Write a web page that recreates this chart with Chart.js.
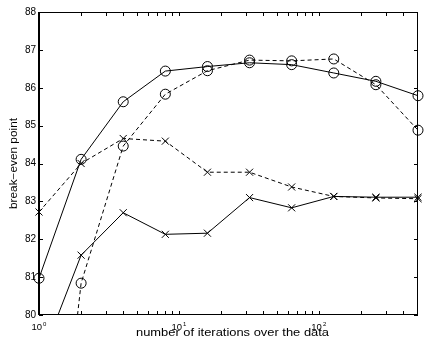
<!DOCTYPE html>
<html>
<head>
<meta charset="utf-8">
<script src="https://cdn.jsdelivr.net/npm/chart.js@4.4.0/dist/chart.umd.min.js"></script>
<style>
  html, body { margin: 0; padding: 0; background: #fff; }
  #wrap { width: 424px; height: 343px; }
</style>
</head>
<body>
<div id="wrap"><canvas id="myChart" width="424" height="343"></canvas></div>
<script>
// number of passes over the data (log axis)
let iterations = [1, 2, 4, 8, 16, 32, 64, 128, 256, 512]

// break-even point for each run
let solidCircles  = [80.97, 84.11, 85.63, 86.44, 86.56, 86.66, 86.61, 86.39, 86.17, 85.79]
let dashedCircles = [71.0, 80.84, 84.46, 85.83, 86.45, 86.73, 86.71, 86.76, 86.08, 84.88]
let dashedCrosses = [82.72, 84.0, 84.66, 84.59, 83.77, 83.77, 83.38, 83.13, 83.09, 83.07]
let solidCrosses  = [78.7, 81.58, 82.70, 82.13, 82.16, 83.10, 82.83, 83.13, 83.11, 83.11]

let yTicks = [80, 81, 82, 83, 84, 85, 86, 87, 88]
let xDecades = [1, 10, 100]
let xTickLabels = ['10', '10', '10']
let xTickExponents = ['0', '1', '2']
let xTitle = 'number of iterations over the data'
let yTitle = 'break\u2212even point'

const font = '"Liberation Sans", Arial, Helvetica, sans-serif'

function toPoints(vals){
    return iterations.map((it, i) => ({x: it, y: vals[i]}))
}

function makeSet(label, vals, dashed, marker){
    return {
        label: label,
        data: toPoints(vals),
        borderColor: '#000',
        borderWidth: 1,
        borderDash: dashed ? [4, 3] : [],
        backgroundColor: 'rgba(0,0,0,0)',
        pointStyle: marker,
        pointRadius: 5,
        pointBorderColor: '#000',
        pointBorderWidth: 1,
        pointBackgroundColor: 'rgba(0,0,0,0)',
        tension: 0,
        fill: false,
        clip: {left: 8, top: 8, right: 8, bottom: 0}
    }
}

// box, inward ticks, log labels and titles in a MATLAB-ish style
const frame = {
    id: 'frame',
    afterDraw(chart){
        const ctx = chart.ctx
        const a = chart.chartArea
        const xs = chart.scales.x
        const ys = chart.scales.y
        ctx.save()
        ctx.strokeStyle = '#000'
        ctx.lineWidth = 1

        // box
        ctx.beginPath()
        ctx.moveTo(a.left, a.top + 0.5); ctx.lineTo(a.right, a.top + 0.5)
        ctx.moveTo(a.left, a.bottom - 0.5); ctx.lineTo(a.right, a.bottom - 0.5)
        ctx.moveTo(a.right - 0.5, a.top); ctx.lineTo(a.right - 0.5, a.bottom)
        ctx.stroke()
        ctx.lineWidth = 2
        ctx.beginPath()
        ctx.moveTo(a.left, a.top); ctx.lineTo(a.left, a.bottom)
        ctx.stroke()

        // inward ticks
        ctx.lineWidth = 1
        const len = 4
        ctx.beginPath()
        yTicks.forEach(v => {
            const py = Math.round(ys.getPixelForValue(v)) + 0.5
            ctx.moveTo(a.left, py); ctx.lineTo(a.left + len, py)
            ctx.moveTo(a.right, py); ctx.lineTo(a.right - len, py)
        })
        xDecades.forEach(d => {
            for (let m = 1; m <= 9; m++){
                const v = d * m
                if (v > xs.max) break
                const px = Math.round(xs.getPixelForValue(v)) + 0.5
                ctx.moveTo(px, a.bottom); ctx.lineTo(px, a.bottom - len)
                ctx.moveTo(px, a.top); ctx.lineTo(px, a.top + len)
            }
        })
        ctx.stroke()

        // x tick labels with superscript exponent
        ctx.fillStyle = '#000'
        ctx.textBaseline = 'alphabetic'
        ctx.textAlign = 'left'
        xDecades.forEach((d, i) => {
            const px = xs.getPixelForValue(d)
            ctx.font = '9.5px ' + font
            const w1 = ctx.measureText(xTickLabels[i]).width
            ctx.font = '6px ' + font
            const w2 = ctx.measureText(xTickExponents[i]).width
            const start = px - (w1 + w2 + 1) / 2
            ctx.font = '9.5px ' + font
            ctx.fillText(xTickLabels[i], start, a.bottom + 15)
            ctx.font = '6px ' + font
            ctx.fillText(xTickExponents[i], start + w1 + 1, a.bottom + 11)
        })

        // x title
        ctx.font = '10px ' + font
        ctx.textAlign = 'center'
        const tw = ctx.measureText(xTitle).width
        ctx.save()
        ctx.translate((a.left + a.right) / 2 + 4, a.bottom + 20.5)
        ctx.scale(193 / tw, 1)
        ctx.fillText(xTitle, 0, 0)
        ctx.restore()

        // y title
        const yw = ctx.measureText(yTitle).width
        ctx.save()
        ctx.translate(17, (a.top + a.bottom) / 2)
        ctx.rotate(-Math.PI / 2)
        ctx.scale(91 / yw, 1)
        ctx.fillText(yTitle, 0, 0)
        ctx.restore()

        ctx.restore()
    }
}

const ctx = document.getElementById('myChart')
const myChart = new Chart(ctx, {
    type: 'line',
    data: {
        datasets: [
            makeSet('solid o', solidCircles, false, 'circle'),
            makeSet('dashed o', dashedCircles, true, 'circle'),
            makeSet('dashed x', dashedCrosses, true, 'crossRot'),
            makeSet('solid x', solidCrosses, false, 'crossRot')
        ]
    },
    options: {
        responsive: false,
        animation: false,
        layout: { padding: { top: 12, right: 1, left: 0, bottom: 0 } },
        plugins: { legend: { display: false }, tooltip: { enabled: false } },
        scales: {
            x: {
                type: 'logarithmic',
                min: 1,
                max: 512,
                grid: { display: false },
                border: { display: false },
                ticks: { display: false },
                afterFit: s => { s.height = 28 }
            },
            y: {
                min: 80,
                max: 88,
                grid: { display: false, drawTicks: false },
                border: { display: false },
                ticks: {
                    stepSize: 1,
                    color: '#000',
                    padding: 3,
                    font: { family: font, size: 10 }
                },
                afterFit: s => { s.width = 39 }
            }
        }
    },
    plugins: [frame]
})
</script>
</body>
</html>
